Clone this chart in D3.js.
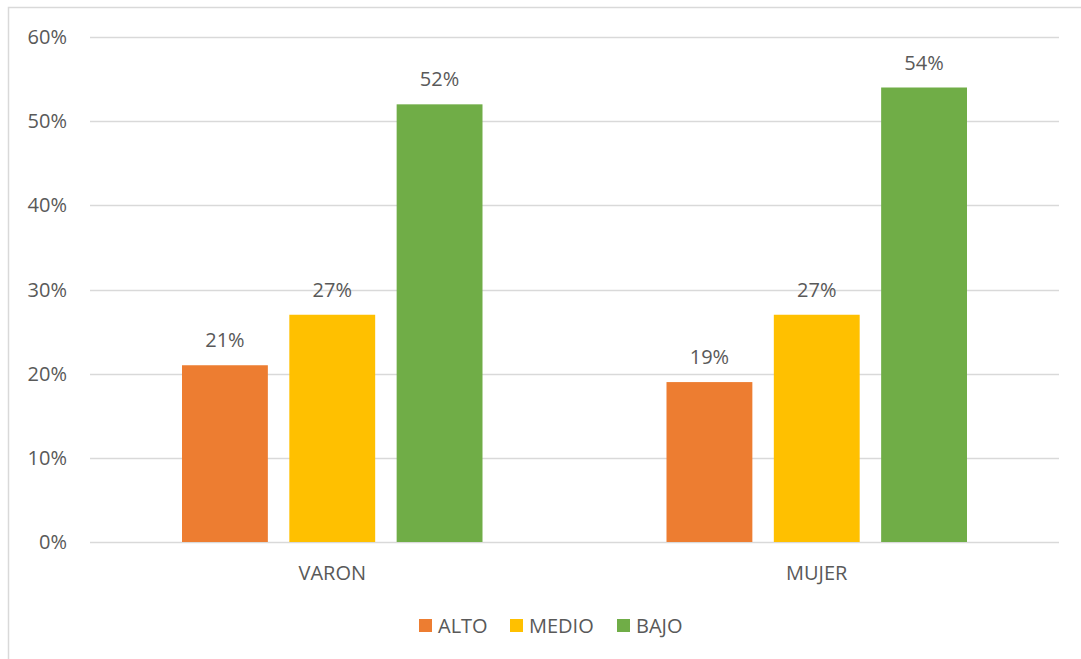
<!DOCTYPE html>
<html>
  <head>
    <script src="https://d3js.org/d3.v7.min.js"></script>
    <style>
      body {
        margin: 0;
        background: #ffffff;
      }
      text {
        font-family: "Open Sans", "Liberation Sans", sans-serif;
        fill: #595959;
        font-size: 20px;
      }
    </style>
  </head>
  <body>
    <div id="chartContainer"></div>
  </body>

  <script type="text/javascript">
    const categories = ["VARON", "MUJER"];
    const seriesNames = ["ALTO", "MEDIO", "BAJO"];
    const alto = [0.21, 0.19];
    const medio = [0.27, 0.27];
    const bajo = [0.52, 0.54];
    const yTicks = [0, 0.1, 0.2, 0.3, 0.4, 0.5, 0.6];
    const colors = ["#ed7d31", "#ffc000", "#70ad47"];

    const width = 1081,
      height = 659;
    const plot = { left: 90, right: 1059, top: 37, bottom: 542 };

    const svg = d3
      .select("#chartContainer")
      .append("svg")
      .attr("width", width)
      .attr("height", height);

    // chart frame
    svg
      .append("rect")
      .attr("x", 8.5)
      .attr("y", 7.5)
      .attr("width", width + 10)
      .attr("height", height + 10)
      .attr("fill", "none")
      .attr("stroke", "#d9d9d9")
      .attr("stroke-width", 1.5);

    const y = d3.scaleLinear().domain([0, 0.6]).range([plot.bottom, plot.top]);
    const x0 = d3
      .scaleBand()
      .domain(categories)
      .range([plot.left, plot.right])
      .paddingInner(0)
      .paddingOuter(0);
    const x1 = d3
      .scaleBand()
      .domain(seriesNames)
      .range([92, x0.bandwidth() - 92])
      .paddingInner(0.2)
      .paddingOuter(0);

    // gridlines
    svg
      .append("g")
      .selectAll("line")
      .data(yTicks)
      .enter()
      .append("line")
      .attr("x1", plot.left)
      .attr("x2", plot.right)
      .attr("y1", (d) => Math.round(y(d)) + 0.5)
      .attr("y2", (d) => Math.round(y(d)) + 0.5)
      .attr("stroke", "#d9d9d9")
      .attr("stroke-width", 1.5);

    // y labels
    svg
      .append("g")
      .selectAll("text")
      .data(yTicks)
      .enter()
      .append("text")
      .attr("x", 67)
      .attr("y", (d) => y(d))
      .attr("dy", "0.35em")
      .attr("text-anchor", "end")
      .text(d3.format(".0%"));

    const rows = categories.map((c, i) => ({
      cat: c,
      values: [alto[i], medio[i], bajo[i]],
    }));

    const groups = svg
      .append("g")
      .selectAll("g")
      .data(rows)
      .enter()
      .append("g")
      .attr("transform", (d) => `translate(${x0(d.cat)},0)`);

    groups
      .selectAll("rect")
      .data((d) => d.values.map((v, j) => ({ name: seriesNames[j], v: v, j: j })))
      .enter()
      .append("rect")
      .attr("x", (d) => x1(d.name))
      .attr("width", x1.bandwidth())
      .attr("y", (d) => y(d.v))
      .attr("height", (d) => y(0) - y(d.v))
      .attr("fill", (d) => colors[d.j]);

    groups
      .selectAll("text.lbl")
      .data((d) => d.values.map((v, j) => ({ name: seriesNames[j], v: v })))
      .enter()
      .append("text")
      .attr("class", "lbl")
      .attr("x", (d) => x1(d.name) + x1.bandwidth() / 2)
      .attr("y", (d) => y(d.v) - 25)
      .attr("dy", "0.35em")
      .attr("text-anchor", "middle")
      .text((d) => d3.format(".0%")(d.v));

    // category labels
    svg
      .append("g")
      .selectAll("text")
      .data(categories)
      .enter()
      .append("text")
      .attr("x", (d) => x0(d) + x0.bandwidth() / 2)
      .attr("y", 573)
      .attr("dy", "0.35em")
      .attr("text-anchor", "middle")
      .text((d) => d);

    // legend
    const legendX = [419, 510, 617];
    const legend = svg
      .append("g")
      .selectAll("g")
      .data(seriesNames)
      .enter()
      .append("g")
      .attr("transform", (d, i) => `translate(${legendX[i]},619)`);

    legend
      .append("rect")
      .attr("width", 13)
      .attr("height", 13)
      .attr("fill", (d, i) => colors[i]);

    legend
      .append("text")
      .attr("x", 19)
      .attr("y", 6.5)
      .attr("dy", "0.35em")
      .text((d) => d);
  </script>
</html>
